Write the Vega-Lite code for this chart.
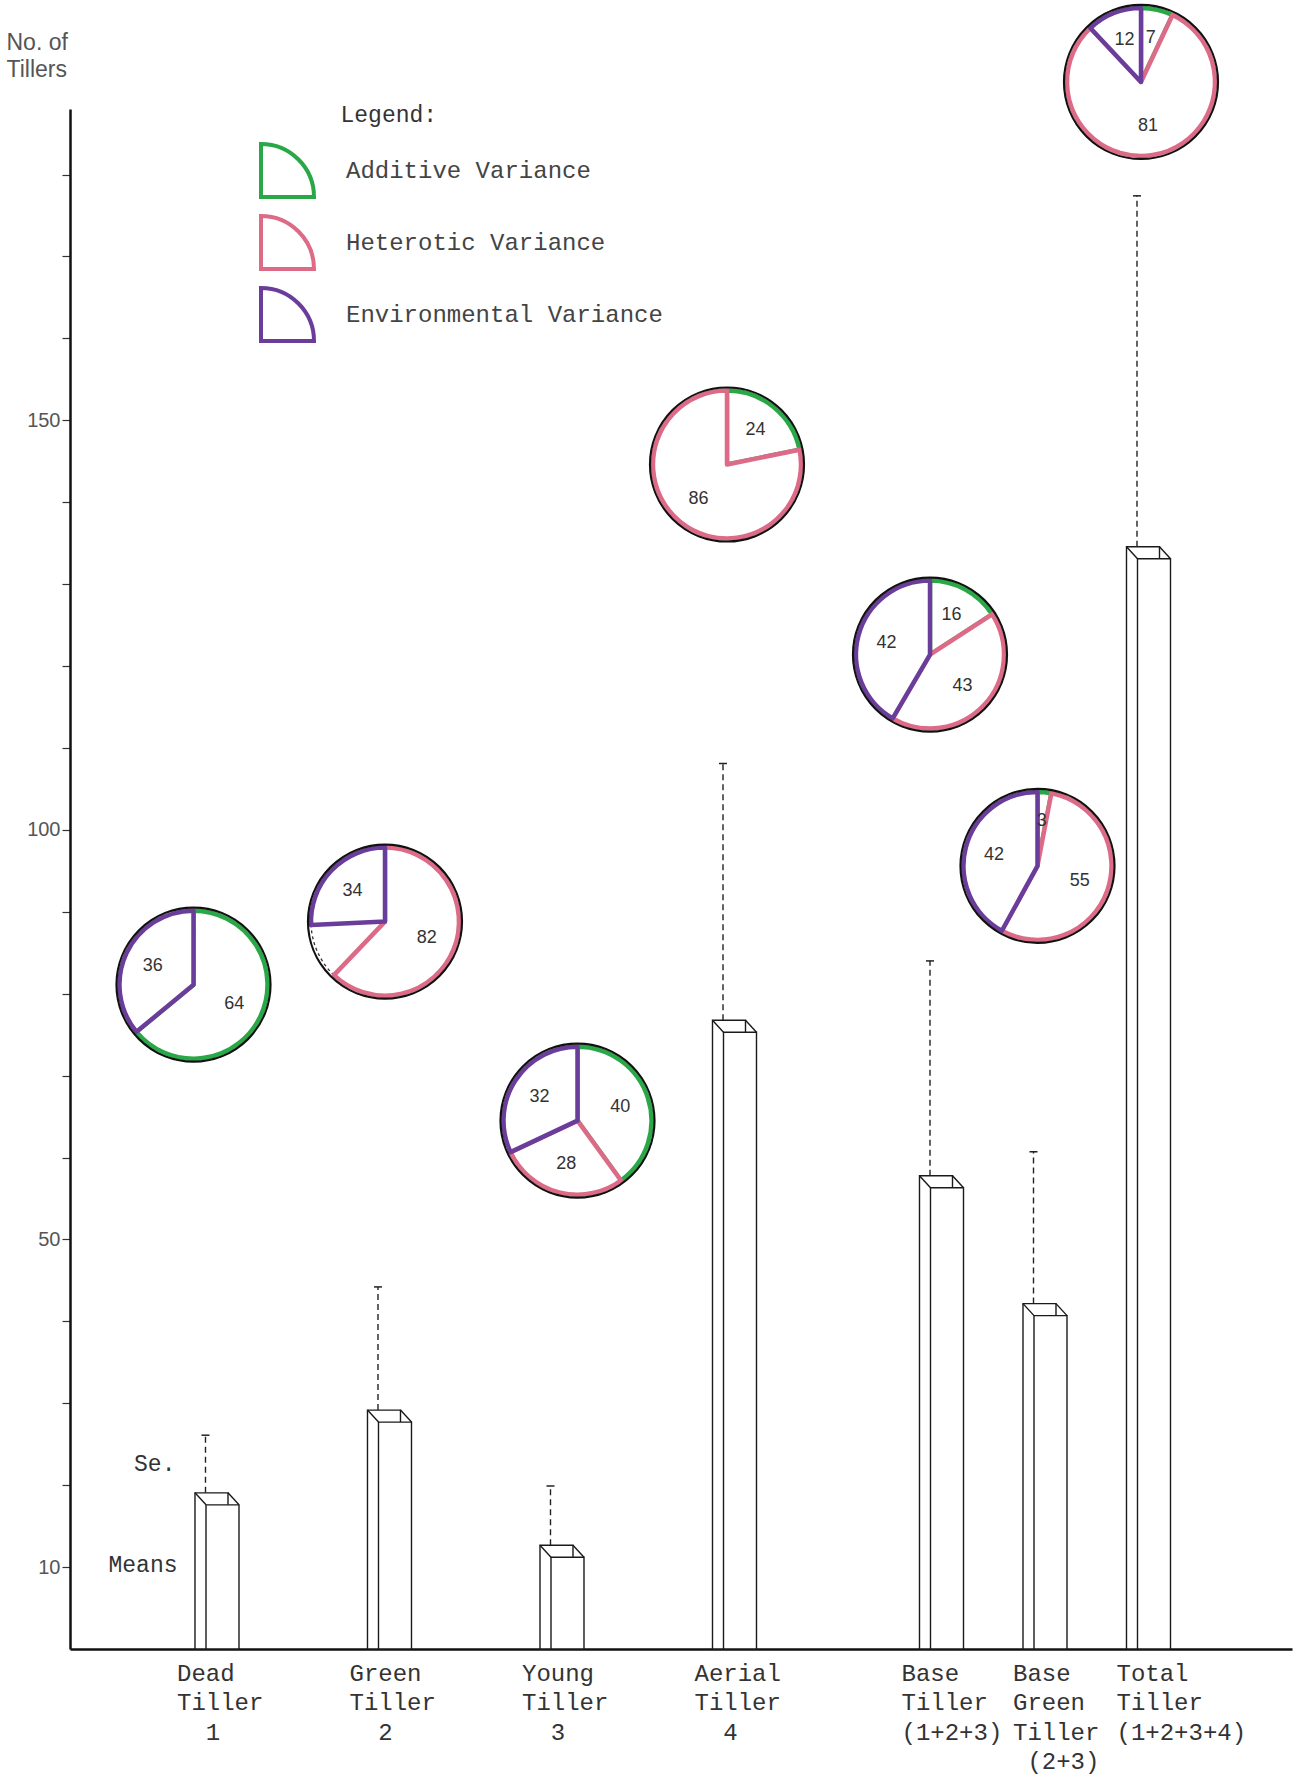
{
  "$schema": "https://vega.github.io/schema/vega-lite/v6.json",
  "width": 1222,
  "height": 1540,
  "autosize": {"type": "none"},
  "padding": {"left": 70, "top": 109, "right": 10, "bottom": 128},
  "background": "white",
  "config": {"view": {"stroke": null}, "axis": {"grid": false}},
  "datasets": {
    "bars": [
      {"trait": "Dead Tiller 1", "mean": 17.6, "upper": 26.1},
      {"trait": "Green Tiller 2", "mean": 27.7, "upper": 44.2},
      {"trait": "Young Tiller 3", "mean": 11.2, "upper": 19.9},
      {"trait": "Aerial Tiller 4", "mean": 75.3, "upper": 108.1},
      {"trait": "Base Tiller (1+2+3)", "mean": 56.3, "upper": 84.0},
      {"trait": "Base Green Tiller (2+3)", "mean": 40.7, "upper": 60.7},
      {"trait": "Total Tiller (1+2+3+4)", "mean": 133.1, "upper": 177.4}
    ],
    "pies": [
      {"trait": "Dead Tiller 1", "py": 81.1},
      {"trait": "Green Tiller 2", "py": 88.8},
      {"trait": "Young Tiller 3", "py": 64.5},
      {"trait": "Aerial Tiller 4", "py": 144.6},
      {"trait": "Base Tiller (1+2+3)", "py": 121.4},
      {"trait": "Base Green Tiller (2+3)", "py": 95.6},
      {"trait": "Total Tiller (1+2+3+4)", "py": 191.3}
    ],
    "slices": [
      {"trait": "Dead Tiller 1", "component": "Additive", "value": 64},
      {"trait": "Dead Tiller 1", "component": "Environmental", "value": 36},
      {"trait": "Green Tiller 2", "component": "Heterotic", "value": 82},
      {"trait": "Green Tiller 2", "component": "Overlap", "value": 16},
      {"trait": "Green Tiller 2", "component": "Environmental", "value": 34},
      {"trait": "Young Tiller 3", "component": "Additive", "value": 40},
      {"trait": "Young Tiller 3", "component": "Heterotic", "value": 28},
      {"trait": "Young Tiller 3", "component": "Environmental", "value": 32},
      {"trait": "Aerial Tiller 4", "component": "Additive", "value": 24},
      {"trait": "Aerial Tiller 4", "component": "Heterotic", "value": 86},
      {"trait": "Base Tiller (1+2+3)", "component": "Additive", "value": 16},
      {"trait": "Base Tiller (1+2+3)", "component": "Heterotic", "value": 43},
      {"trait": "Base Tiller (1+2+3)", "component": "Environmental", "value": 42},
      {"trait": "Base Green Tiller (2+3)", "component": "Additive", "value": 3},
      {"trait": "Base Green Tiller (2+3)", "component": "Heterotic", "value": 55},
      {"trait": "Base Green Tiller (2+3)", "component": "Environmental", "value": 42},
      {"trait": "Total Tiller (1+2+3+4)", "component": "Additive", "value": 7},
      {"trait": "Total Tiller (1+2+3+4)", "component": "Heterotic", "value": 81},
      {"trait": "Total Tiller (1+2+3+4)", "component": "Environmental", "value": 12}
    ]
  },
  "layer": [
    {
      "data": {"name": "bars"},
      "mark": {"type": "bar", "width": 33, "xOffset": -11, "yOffset": -12, "y2Offset": 0, "fill": "white", "stroke": "#1a1a1a", "strokeWidth": 1.4},
      "encoding": {
        "x": {"field": "trait", "type": "nominal",
          "scale": {"type": "point", "domain": ["_a","_b","_c","_d","Dead Tiller 1","_1","_2","_3","_4","Green Tiller 2","_5","_6","_7","_8","Young Tiller 3","_9","_10","_11","_12","Aerial Tiller 4","_13","_14","_15","_16","_17","Base Tiller (1+2+3)","_18","_19","Base Green Tiller (2+3)","_20","_21","Total Tiller (1+2+3+4)","_w","_x","_y","_z"], "padding": 0.21, "align": 1},
          "axis": {"title": null, "ticks": false, "domain": true, "domainColor": "#111", "domainWidth": 2.5,
            "labelExpr": "indexof(datum.value, '_') == 0 ? '' : split(replace(replace(replace(replace(replace(datum.value, ' 1', ' \u200b\u00a0\u00a01'), ' 2', ' \u200b\u00a0\u00a02'), ' 3', ' \u200b\u00a0\u00a03'), ' 4', ' \u200b\u00a0\u00a04'), ' (2+3)', ' \u200b\u00a0(2+3)'), ' ')",
            "labelAlign": "left",
            "labelOffset": {"condition": {"test": "indexof(['Base Green Tiller (2+3)', 'Total Tiller (1+2+3+4)'], datum.value) >= 0", "value": -38}, "value": -46},
            "labelFont": "Liberation Mono", "labelFontSize": 24, "labelColor": "#333", "labelLineHeight": 29.5,
            "labelBaseline": "top", "labelPadding": 12, "labelOverlap": false, "labelLimit": 400, "labelAngle": 0, "labelFlush": false}},
        "y": {"field": "mean", "type": "quantitative",
          "scale": {"domain": [0, 188], "nice": false, "zero": false},
          "axis": {"title": ["No. of", "Tillers"], "titleAngle": 0, "titleAlign": "left", "titleBaseline": "top",
            "titleX": -64, "titleY": -78, "titleFont": "Liberation Sans", "titleFontSize": 23, "titleFontWeight": "normal",
            "titleColor": "#555", "titleLineHeight": 27,
            "values": [10,20,30,40,50,60,70,80,90,100,110,120,130,140,150,160,170,180],
            "labelExpr": "indexof([10,50,100,150], datum.value) >= 0 ? datum.label : ''",
            "labelFont": "Liberation Sans", "labelFontSize": 20, "labelColor": "#555", "labelPadding": 2,
            "tickSize": 8, "tickColor": "#333", "tickWidth": 1.2, "domainColor": "#111", "domainWidth": 2.5,
            "grid": false, "labelOverlap": false}},
        "y2": {"datum": 0}
      }
    },
    {
      "data": {"name": "bars"},
      "mark": {"type": "bar", "width": 33, "fill": "white", "stroke": "#1a1a1a", "strokeWidth": 1.4},
      "encoding": {
        "x": {"field": "trait", "type": "nominal"},
        "y": {"field": "mean", "type": "quantitative"}
      }
    },
    {
      "data": {"name": "bars"},
      "mark": {"type": "rule", "xOffset": -27.5, "x2Offset": -16.5, "yOffset": -12, "y2Offset": 0, "stroke": "#1a1a1a", "strokeWidth": 1.4},
      "encoding": {
        "x": {"field": "trait", "type": "nominal"},
        "x2": {"field": "trait"},
        "y": {"field": "mean", "type": "quantitative"},
        "y2": {"field": "mean"}
      }
    },
    {
      "data": {"name": "bars"},
      "mark": {"type": "rule", "xOffset": 5.5, "x2Offset": 16.5, "yOffset": -12, "y2Offset": 0, "stroke": "#1a1a1a", "strokeWidth": 1.4},
      "encoding": {
        "x": {"field": "trait", "type": "nominal"},
        "x2": {"field": "trait"},
        "y": {"field": "mean", "type": "quantitative"},
        "y2": {"field": "mean"}
      }
    },
    {
      "data": {"name": "bars"},
      "mark": {"type": "rule", "xOffset": -17, "yOffset": -12, "stroke": "#222", "strokeWidth": 1.4, "strokeDash": [6, 4]},
      "encoding": {
        "x": {"field": "trait", "type": "nominal"},
        "y": {"field": "mean", "type": "quantitative"},
        "y2": {"field": "upper"}
      }
    },
    {
      "data": {"name": "bars"},
      "mark": {"type": "rule", "xOffset": -21, "x2Offset": -13, "stroke": "#222", "strokeWidth": 1.5},
      "encoding": {
        "x": {"field": "trait", "type": "nominal"},
        "x2": {"field": "trait"},
        "y": {"field": "upper", "type": "quantitative"}
      }
    },
    {
      "data": {"name": "slices"},
      "transform": [
        {"stack": "value", "groupby": ["trait"], "offset": "normalize", "as": ["v0", "v1"]},
        {"lookup": "trait", "from": {"data": {"name": "pies"}, "key": "trait", "fields": ["py"]}},
        {"filter": "datum.component === 'Overlap'"}
      ],
      "mark": {"type": "arc", "outerRadius": 74, "innerRadius": 0, "fill": "white", "stroke": "#333", "strokeWidth": 1.3, "strokeDash": [3, 3],
        "xOffset": {"expr": "datum.trait === 'Dead Tiller 1' ? -29 : datum.trait === 'Young Tiller 3' ? 10 : datum.trait === 'Base Tiller (1+2+3)' ? -17 : datum.trait === 'Green Tiller 2' ? -10 : -13"}},
      "encoding": {
        "x": {"field": "trait", "type": "nominal"},
        "y": {"field": "py", "type": "quantitative", "stack": null},
        "theta": {"field": "v0", "type": "quantitative", "scale": {"domain": [0, 1], "range": [0, 6.283185]}},
        "theta2": {"field": "v1"}
      }
    },
    {
      "data": {"name": "slices"},
      "transform": [
        {"stack": "value", "groupby": ["trait"], "offset": "normalize", "as": ["v0", "v1"]},
        {"lookup": "trait", "from": {"data": {"name": "pies"}, "key": "trait", "fields": ["py"]}},
        {"filter": "datum.component !== 'Overlap'"}
      ],
      "mark": {"type": "arc", "outerRadius": 74, "innerRadius": 0, "fill": "white", "strokeWidth": 4.5, "strokeJoin": "round",
        "xOffset": {"expr": "datum.trait === 'Dead Tiller 1' ? -29 : datum.trait === 'Young Tiller 3' ? 10 : datum.trait === 'Base Tiller (1+2+3)' ? -17 : datum.trait === 'Green Tiller 2' ? -10 : -13"}},
      "encoding": {
        "x": {"field": "trait", "type": "nominal"},
        "y": {"field": "py", "type": "quantitative", "stack": null},
        "theta": {"field": "v0", "type": "quantitative", "scale": {"domain": [0, 1], "range": [0, 6.283185]}},
        "theta2": {"field": "v1"},
        "stroke": {"field": "component", "type": "nominal",
          "scale": {"domain": ["Additive", "Heterotic", "Environmental"], "range": ["#2aa847", "#dd6b88", "#6a3d9a"]},
          "legend": {"orient": "none", "legendX": 189, "legendY": 33, "title": null, "direction": "vertical",
            "rowPadding": 3, "padding": 0, "offset": 0,
            "symbolType": "M-1,-1 A2,2 0 0,1 1,1 L-1,1 Z", "symbolSize": 2809, "symbolStrokeWidth": 4,
            "symbolFillColor": "white",
            "labelExpr": "datum.label + ' Variance'", "labelFont": "Liberation Mono", "labelFontSize": 24,
            "labelColor": "#444", "labelOffset": 30, "labelLimit": 500}}
      }
    },
    {
      "data": {"name": "pies"},
      "mark": {"type": "point", "shape": "circle", "size": 23716, "filled": false, "stroke": "#111", "strokeWidth": 2.2, "opacity": 1,
        "xOffset": {"expr": "datum.trait === 'Dead Tiller 1' ? -29 : datum.trait === 'Young Tiller 3' ? 10 : datum.trait === 'Base Tiller (1+2+3)' ? -17 : datum.trait === 'Green Tiller 2' ? -10 : -13"}},
      "encoding": {
        "x": {"field": "trait", "type": "nominal"},
        "y": {"field": "py", "type": "quantitative"}
      }
    },
    {
      "data": {"name": "slices"},
      "transform": [
        {"stack": "value", "groupby": ["trait"], "offset": "normalize", "as": ["v0", "v1"]},
        {"lookup": "trait", "from": {"data": {"name": "pies"}, "key": "trait", "fields": ["py"]}},
        {"filter": "datum.component !== 'Overlap'"}
      ],
      "mark": {"type": "text", "radius": 45, "theta": {"expr": "(datum.v0 + datum.v1) * PI"},
        "xOffset": {"expr": "datum.trait === 'Dead Tiller 1' ? -29 : datum.trait === 'Young Tiller 3' ? 10 : datum.trait === 'Base Tiller (1+2+3)' ? -17 : datum.trait === 'Green Tiller 2' ? -10 : -13"},
        "font": "Liberation Sans", "fontSize": 18, "fill": "#333", "align": "center", "baseline": "middle"},
      "encoding": {
        "x": {"field": "trait", "type": "nominal"},
        "y": {"field": "py", "type": "quantitative"},
        "text": {"field": "value", "type": "quantitative"}
      }
    },
    {
      "data": {"values": [{}]},
      "mark": {"type": "text", "text": "Se.", "align": "right", "baseline": "middle", "dx": -47, "font": "Liberation Mono", "fontSize": 23, "fill": "#333"},
      "encoding": {
        "x": {"datum": "Dead Tiller 1", "type": "nominal"},
        "y": {"datum": 22.6, "type": "quantitative"}
      }
    },
    {
      "data": {"values": [{}]},
      "mark": {"type": "text", "text": "Means", "align": "right", "baseline": "middle", "dx": -45, "font": "Liberation Mono", "fontSize": 23, "fill": "#333"},
      "encoding": {
        "x": {"datum": "Dead Tiller 1", "type": "nominal"},
        "y": {"datum": 10.3, "type": "quantitative"}
      }
    },
    {
      "data": {"values": [{}]},
      "mark": {"type": "text", "text": "Legend:", "align": "left", "baseline": "middle", "dx": 118, "font": "Liberation Mono", "fontSize": 23, "fill": "#333"},
      "encoding": {
        "x": {"datum": "Dead Tiller 1", "type": "nominal"},
        "y": {"datum": 187.3, "type": "quantitative"}
      }
    }
  ]
}
